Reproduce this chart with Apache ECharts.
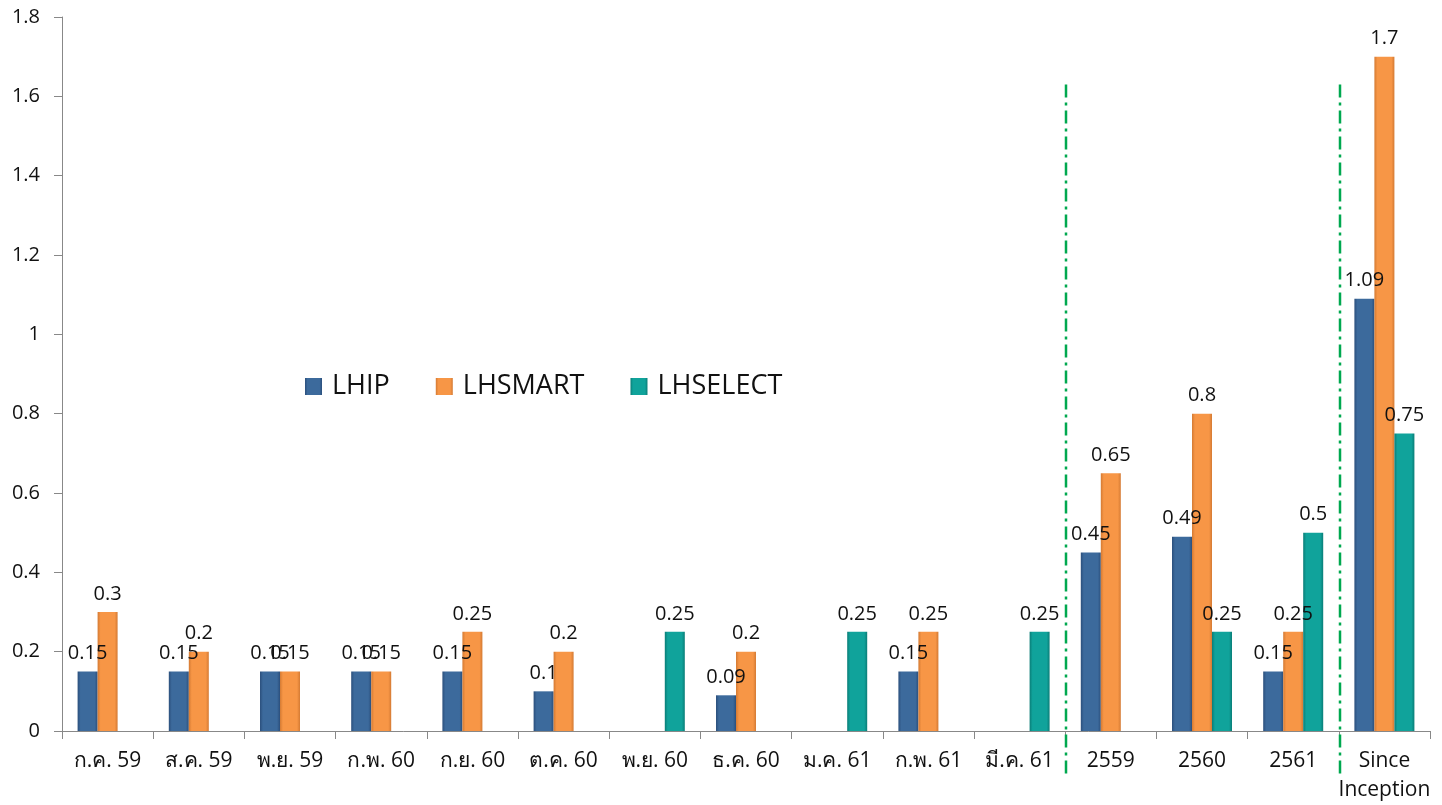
<!DOCTYPE html>
<html><head><meta charset="utf-8">
<script src="https://cdn.jsdelivr.net/npm/echarts@6/dist/echarts.min.js"></script>
<style>html,body{margin:0;padding:0;background:#fff}#c{width:1442px;height:805px}</style>
</head><body><div id="c"></div>
<script>
const categories = ['ก.ค. 59','ส.ค. 59','พ.ย. 59','ก.พ. 60','ก.ย. 60','ต.ค. 60','พ.ย. 60','ธ.ค. 60','ม.ค. 61','ก.พ. 61','มี.ค. 61','2559','2560','2561','Since\nInception'];
const lhip     = [0.15,0.15,0.15,0.15,0.15,0.1,null,0.09,null,0.15,null,0.45,0.49,0.15,1.09];
const lhsmart  = [0.3,0.2,0.15,0.15,0.25,0.2,null,0.2,null,0.25,null,0.65,0.8,0.25,1.7];
const lhselect = [null,null,null,null,null,null,0.25,null,0.25,null,0.25,null,0.25,0.5,0.75];
const dividerAfter = [10, 13];

const FONT = '"Open Sans","Noto Sans",sans-serif';
function grad(edge, mid){
  return new echarts.graphic.LinearGradient(0,0,1,0,[
    {offset:0,color:edge},{offset:0.15,color:mid},{offset:0.85,color:mid},{offset:1,color:edge}]);
}
function series(name, data, edge, mid){
  return {name, type:'bar', data, barWidth:20, barGap:'0%',
    itemStyle:{color:grad(edge,mid)},
    label:{show:true, position:'top', distance:8, color:'#111', fontSize:20, fontFamily:FONT}};
}
const chart = echarts.init(document.getElementById('c'));
chart.setOption({
  animation:false,
  backgroundColor:'#fff',
  grid:{left:62, right:12, top:17, bottom:73},
  legend:{left:300, top:368, itemWidth:17, itemHeight:17, itemGap:46, icon:'rect',
    textStyle:{fontSize:27, color:'#111', fontFamily:FONT, padding:[0,0,0,5]}},
  xAxis:{type:'category', data:categories,
    axisLine:{lineStyle:{color:'#888'}},
    axisTick:{show:true, length:8, lineStyle:{color:'#888'}},
    axisLabel:{fontSize:21, color:'#111', fontFamily:FONT, margin:16, interval:0, lineHeight:29}},
  yAxis:{type:'value', min:0, max:1.8, interval:0.2,
    splitLine:{show:false},
    axisLine:{show:true, lineStyle:{color:'#888'}},
    axisTick:{show:true, length:8, lineStyle:{color:'#888'}},
    axisLabel:{fontSize:20, color:'#111', fontFamily:FONT, margin:22}},
  series:[
    series('LHIP', lhip, '#2b4f7c', '#3c6a9c'),
    series('LHSMART', lhsmart, '#d47a33', '#f79646'),
    series('LHSELECT', lhselect, '#0a7d77', '#10a39b')
  ]
});
const y0 = chart.convertToPixel({yAxisIndex:0}, 0);
const yTop = chart.convertToPixel({yAxisIndex:0}, 1.63);
const els = dividerAfter.map(i=>{
  const a = chart.convertToPixel({xAxisIndex:0}, i);
  const b = chart.convertToPixel({xAxisIndex:0}, i+1);
  const x = Math.round((a+b)/2)+1;
  return {type:'line', shape:{x1:x,y1:yTop,x2:x,y2:y0+44},
    style:{stroke:'#00a84f', lineWidth:2.5, lineDash:[13,5,3,5]}, z:10};
});
chart.setOption({graphic:els});
</script></body></html>
